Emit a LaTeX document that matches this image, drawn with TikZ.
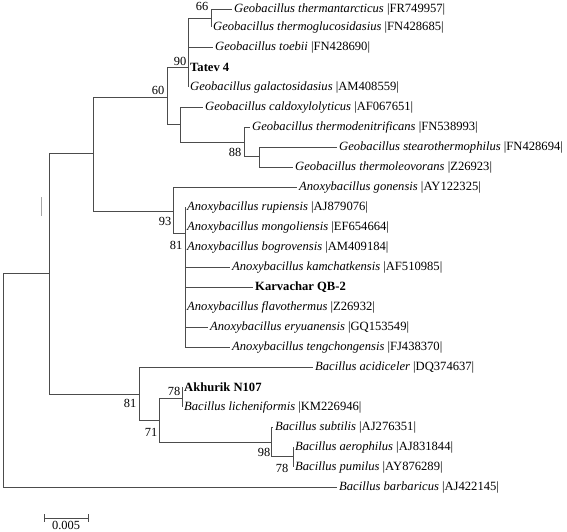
\documentclass[tikz,border=0pt]{standalone}
\usepackage{fontspec}
\setmainfont{Liberation Serif}
\usetikzlibrary{positioning}

\begin{document}
\begin{tikzpicture}[
x=1pt,y=-1pt,
branch/.style={draw=black!70,line width=0.8pt},
leaf/.style={anchor=west,inner sep=2pt,font=\fontsize{12.6}{13}\selectfont},
strain/.style={leaf,font=\fontsize{12.6}{13}\selectfont\bfseries},
boot/.style={inner sep=0pt,font=\fontsize{12.4}{13}\selectfont},
]
\useasboundingbox (0,0) rectangle (567,532);
% internal nodes
\coordinate (root) at (3,380);
\coordinate (nA) at (49,273);
\coordinate (nB) at (93,153);
\coordinate (n60) at (167,97);
\coordinate (n90) at (188,67);
\coordinate (n66) at (211,18);
\coordinate (nC) at (180,124);
\coordinate (n88) at (244,142);
\coordinate (nD) at (259,156);
\coordinate (n93) at (173,211);
\coordinate (n81) at (185,233);
\coordinate (nBac) at (139,394);
\coordinate (n71) at (159,420);
\coordinate (n78) at (182,398);
\coordinate (n98) at (271,442);
\coordinate (n78b) at (293,456);
% leaves
\node[leaf] (r1) at (232,9) {\textit{Geobacillus thermantarcticus} |FR749957|};
\node[leaf] (r2) at (211,27) {\textit{Geobacillus thermoglucosidasius} |FN428685|};
\node[leaf] (r3) at (213,47) {\textit{Geobacillus toebii} |FN428690|};
\node[strain] (r4) at (188,67) {Tatev 4};
\node[leaf] (r5) at (188,87) {\textit{Geobacillus galactosidasius} |AM408559|};
\node[leaf] (r6) at (203,107) {\textit{Geobacillus caldoxylolyticus} |AF067651|};
\node[leaf] (r7) at (250,127) {\textit{Geobacillus thermodenitrificans} |FN538993|};
\node[leaf] (r8) at (337,147) {\textit{Geobacillus stearothermophilus} |FN428694|};
\node[leaf] (r9) at (293,167) {\textit{Geobacillus thermoleovorans} |Z26923|};
\node[leaf] (r10) at (297,187) {\textit{Anoxybacillus gonensis} |AY122325|};
\node[leaf] (r11) at (185,207) {\textit{Anoxybacillus rupiensis} |AJ879076|};
\node[leaf] (r12) at (185,227) {\textit{Anoxybacillus mongoliensis} |EF654664|};
\node[leaf] (r13) at (185,247) {\textit{Anoxybacillus bogrovensis} |AM409184|};
\node[leaf] (r14) at (230,267) {\textit{Anoxybacillus kamchatkensis} |AF510985|};
\node[strain] (r15) at (253,287) {Karvachar QB-2};
\node[leaf] (r16) at (185,307) {\textit{Anoxybacillus flavothermus} |Z26932|};
\node[leaf] (r17) at (208,327) {\textit{Anoxybacillus eryuanensis} |GQ153549|};
\node[leaf] (r18) at (230,347) {\textit{Anoxybacillus tengchongensis} |FJ438370|};
\node[leaf] (r19) at (313,367) {\textit{Bacillus acidiceler} |DQ374637|};
\node[strain] (r20) at (182,387) {Akhurik N107};
\node[leaf] (r21) at (182,407) {\textit{Bacillus licheniformis} |KM226946|};
\node[leaf] (r22) at (273,427) {\textit{Bacillus subtilis} |AJ276351|};
\node[leaf] (r23) at (293,447) {\textit{Bacillus aerophilus} |AJ831844|};
\node[leaf] (r24) at (293,467) {\textit{Bacillus pumilus} |AY876289|};
\node[leaf] (r25) at (337,487) {\textit{Bacillus barbaricus} |AJ422145|};
% branches
\draw[branch] (root) |- (nA);
\draw[branch] (root) |- (r25.west);
\draw[branch] (nA) |- (nB);
\draw[branch] (nA) |- (nBac);
\draw[branch] (nB) |- (n60);
\draw[branch] (nB) |- (n93);
\draw[branch] (n60) |- (n90);
\draw[branch] (n60) |- (nC);
\draw[branch] (n90) |- (n66);
\draw[branch] (n90) |- (r3.west);
\draw[branch] (n90) |- (r4.west);
\draw[branch] (n90) |- (r5.west);
\draw[branch] (n66) |- (r1.west);
\draw[branch] (n66) |- (r2.west);
\draw[branch] (nC) |- (r6.west);
\draw[branch] (nC) |- (n88);
\draw[branch] (n88) |- (r7.west);
\draw[branch] (n88) |- (nD);
\draw[branch] (nD) |- (r8.west);
\draw[branch] (nD) |- (r9.west);
\draw[branch] (n93) |- (r10.west);
\draw[branch] (n93) |- (n81);
\draw[branch] (n81) |- (r11.west);
\draw[branch] (n81) |- (r12.west);
\draw[branch] (n81) |- (r13.west);
\draw[branch] (n81) |- (r14.west);
\draw[branch] (n81) |- (r15.west);
\draw[branch] (n81) |- (r16.west);
\draw[branch] (n81) |- (r17.west);
\draw[branch] (n81) |- (r18.west);
\draw[branch] (nBac) |- (r19.west);
\draw[branch] (nBac) |- (n71);
\draw[branch] (n71) |- (n78);
\draw[branch] (n71) |- (n98);
\draw[branch] (n78) |- (r20.west);
\draw[branch] (n78) |- (r21.west);
\draw[branch] (n98) |- (r22.west);
\draw[branch] (n98) |- (n78b);
\draw[branch] (n78b) |- (r23.west);
\draw[branch] (n78b) |- (r24.west);
% bootstrap values
\node[boot] (b66) at (202,6) {66};
\node[boot] (b90) at (180,61) {90};
\node[boot] (b60) at (158,90) {60};
\node[boot] (b88) at (235,152) {88};
\node[boot] (b93) at (165,221) {93};
\node[boot] (b81) at (176,245) {81};
\node[boot] (b81bac) at (130,403) {81};
\node[boot] (b71) at (151,432) {71};
\node[boot] (b78) at (174,391) {78};
\node[boot] (b98) at (264,452) {98};
\node[boot] (b78b) at (282,468) {78};
% stray mark
\draw[black!35,line width=0.6pt] (41,197) -- (41,216);
% scale bar
\coordinate (sbL) at (44,518);
\coordinate (sbR) at (88,518);
\draw[branch] (sbL) -- (sbR);
\draw[branch] (sbL) ++(0,-4) -- ++(0,8);
\draw[branch] (sbR) ++(0,-4) -- ++(0,8);
\node[boot] (sblabel) at (66,525) {0.005};
\end{tikzpicture}
\end{document}
